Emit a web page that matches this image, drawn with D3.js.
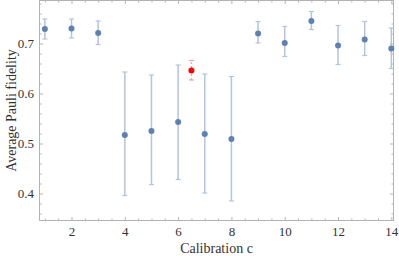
<!DOCTYPE html>
<html>
<head>
<meta charset="utf-8">
<script src="https://cdn.jsdelivr.net/npm/d3@7"></script>
<style>
  body { margin: 0; background: #fff; }
  text { font-family: "Liberation Serif", "DejaVu Serif", serif; fill: #333; }
</style>
</head>
<body>
<div id="chart"></div>
<script>
// calibration index and measured fidelity with error bars
var calib = [1, 2, 3, 4, 5, 6, 7, 8, 9, 10, 11, 12, 13, 14];
var fidelity = [0.729, 0.730, 0.721, 0.517, 0.525, 0.543, 0.519, 0.509, 0.720, 0.701, 0.745, 0.696, 0.708, 0.690];
var errHigh = [0.749, 0.749, 0.745, 0.643, 0.637, 0.657, 0.639, 0.634, 0.744, 0.734, 0.764, 0.736, 0.744, 0.731];
var errLow = [0.709, 0.711, 0.698, 0.396, 0.418, 0.428, 0.401, 0.385, 0.701, 0.674, 0.728, 0.658, 0.676, 0.650];

// the highlighted point
var redX = [6.5];
var redY = [0.646];
var redHigh = [0.666];
var redLow = [0.627];

var xTicks = [2, 4, 6, 8, 10, 12, 14];
var yTicks = [0.4, 0.5, 0.6, 0.7];

var width = 399, height = 256;
var margin = {top: 0, right: 5, bottom: 35, left: 39};

var svg = d3.select("#chart").append("svg")
    .attr("width", width)
    .attr("height", height);

var x = d3.scaleLinear().domain([0.78, 14.1]).range([margin.left, width - margin.right]);
var y = d3.scaleLinear().domain([0.345, 0.787]).range([height - margin.bottom, margin.top]);

var frameColor = "#b3b3b3";
var blue = "#5e81b5";
var blueBar = "#b4c3de";

// frame ticks, inward on all sides
var xMinor = d3.range(1, 14.01, 0.5).filter(d => xTicks.indexOf(d) < 0);
var yMinor = d3.range(0.36, 0.781, 0.02).filter(d => !yTicks.some(t => Math.abs(t - d) < 1e-6));

function frameAxis(axis, transform) {
    svg.append("g")
        .attr("transform", transform)
        .call(axis)
        .call(g => g.select(".domain").remove())
        .call(g => g.selectAll("line").attr("stroke", frameColor));
}

var b = height - margin.bottom, r = width - margin.right;
frameAxis(d3.axisBottom(x).tickValues(xTicks).tickSize(-4).tickPadding(6).tickFormat(d3.format("d")), `translate(0,${b})`);
frameAxis(d3.axisBottom(x).tickValues(xMinor).tickSize(-2.5).tickFormat(""), `translate(0,${b})`);
frameAxis(d3.axisTop(x).tickValues(xTicks).tickSize(-4).tickFormat(""), `translate(0,${margin.top})`);
frameAxis(d3.axisTop(x).tickValues(xMinor).tickSize(-2.5).tickFormat(""), `translate(0,${margin.top})`);
frameAxis(d3.axisLeft(y).tickValues(yTicks).tickSize(-4).tickPadding(5).tickFormat(d3.format(".1f")), `translate(${margin.left},0)`);
frameAxis(d3.axisLeft(y).tickValues(yMinor).tickSize(-2.5).tickFormat(""), `translate(${margin.left},0)`);
frameAxis(d3.axisRight(y).tickValues(yTicks).tickSize(-4).tickFormat(""), `translate(${r},0)`);
frameAxis(d3.axisRight(y).tickValues(yMinor).tickSize(-2.5).tickFormat(""), `translate(${r},0)`);

svg.selectAll(".tick text")
    .style("font-family", "'Liberation Serif', serif")
    .style("font-size", "13px")
    .attr("fill", "#333");

svg.append("rect")
    .attr("x", margin.left + 0.5)
    .attr("y", margin.top + 0.5)
    .attr("width", r - margin.left - 1)
    .attr("height", b - margin.top - 1)
    .attr("fill", "none")
    .attr("stroke", frameColor);

// error bars
var bars = svg.append("g");
calib.forEach((c, i) => {
    var cx = x(c);
    bars.append("line")
        .attr("x1", cx).attr("x2", cx)
        .attr("y1", y(errLow[i])).attr("y2", y(errHigh[i]))
        .attr("stroke", blueBar).attr("stroke-width", 1.5);
    [errLow[i], errHigh[i]].forEach(v => {
        bars.append("line")
            .attr("x1", cx - 2.5).attr("x2", cx + 2.5)
            .attr("y1", y(v)).attr("y2", y(v))
            .attr("stroke", blueBar).attr("stroke-width", 1.2);
    });
});
redX.forEach((c, i) => {
    var cx = x(c);
    bars.append("line")
        .attr("x1", cx).attr("x2", cx)
        .attr("y1", y(redLow[i])).attr("y2", y(redHigh[i]))
        .attr("stroke", "#f5a0a0").attr("stroke-width", 1.3)
        .attr("stroke-dasharray", "2,2");
    [redLow[i], redHigh[i]].forEach(v => {
        bars.append("line")
            .attr("x1", cx - 2.5).attr("x2", cx + 2.5)
            .attr("y1", y(v)).attr("y2", y(v))
            .attr("stroke", "#f5a0a0").attr("stroke-width", 1.2);
    });
});

// points
svg.append("g").selectAll("circle")
    .data(calib)
    .join("circle")
    .attr("cx", d => x(d))
    .attr("cy", (d, i) => y(fidelity[i]))
    .attr("r", 3)
    .attr("fill", blue);

svg.append("g").selectAll("circle")
    .data(redX)
    .join("circle")
    .attr("cx", d => x(d))
    .attr("cy", (d, i) => y(redY[i]))
    .attr("r", 3)
    .attr("fill", "#ff0000");

// axis labels
svg.append("text")
    .attr("x", (margin.left + r) / 2)
    .attr("y", 253)
    .attr("text-anchor", "middle")
    .style("font-size", "14px")
    .text("Calibration c");

svg.append("text")
    .attr("transform", `translate(16,${(margin.top + b) / 2}) rotate(-90)`)
    .attr("text-anchor", "middle")
    .style("font-size", "14px")
    .text("Average Pauli fidelity");
</script>
</body>
</html>
